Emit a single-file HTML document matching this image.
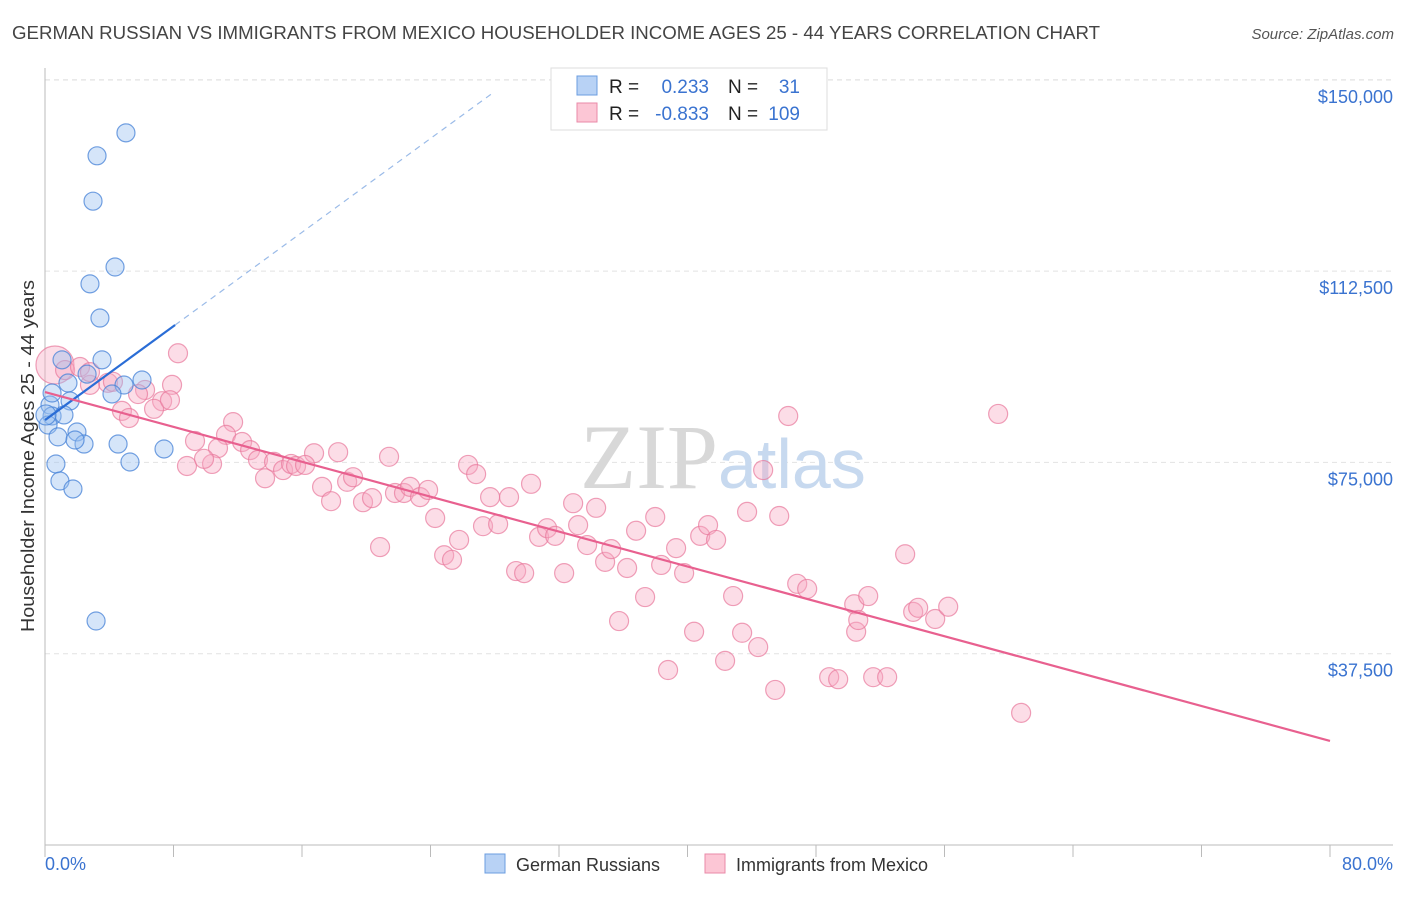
<!DOCTYPE html>
<html><head><meta charset="utf-8"><style>
body{margin:0;background:#fff;font-family:"Liberation Sans",sans-serif;}
svg text{font-family:"Liberation Sans",sans-serif;}
</style></head><body>
<svg id="chart" width="1406" height="892" viewBox="0 0 1406 892" xmlns="http://www.w3.org/2000/svg">
<text x="12" y="39" font-size="18" fill="#444" textLength="1088" lengthAdjust="spacingAndGlyphs">GERMAN RUSSIAN VS IMMIGRANTS FROM MEXICO HOUSEHOLDER INCOME AGES 25 - 44 YEARS CORRELATION CHART</text>
<text x="1394" y="39" font-size="15" fill="#555" font-style="italic" text-anchor="end">Source: ZipAtlas.com</text>
<g id="grid"></g>
<g id="axes"></g>
<text x="718" y="488" font-size="92" text-anchor="end" fill="#d8d8d8" font-family="Liberation Serif" style="font-family:'Liberation Serif',serif">ZIP</text>
<text x="718" y="488" font-size="70" fill="#c7d9ef">atlas</text>
<g id="pink"></g>
<g id="blue"></g>
<g id="trends"></g>
<text transform="translate(34,456) rotate(-90)" font-size="18" fill="#333" text-anchor="middle" textLength="352" lengthAdjust="spacingAndGlyphs">Householder Income Ages 25 - 44 years</text>
<g>
<rect x="551" y="68" width="276" height="62" fill="#fff" stroke="#ddd"/>
<rect x="577" y="76" width="20" height="19" fill="#b8d2f5" stroke="#6b9de0"/>
<rect x="577" y="103" width="20" height="19" fill="#fcc6d5" stroke="#ea8aa8"/>
<text x="609" y="93" font-size="19" fill="#222">R =</text>
<text x="709" y="93" font-size="19" fill="#3a73d0" text-anchor="end">0.233</text>
<text x="728" y="93" font-size="19" fill="#222">N =</text>
<text x="800" y="93" font-size="19" fill="#3a73d0" text-anchor="end">31</text>
<text x="609" y="120" font-size="19" fill="#222">R =</text>
<text x="709" y="120" font-size="19" fill="#3a73d0" text-anchor="end">-0.833</text>
<text x="728" y="120" font-size="19" fill="#222">N =</text>
<text x="800" y="120" font-size="19" fill="#3a73d0" text-anchor="end">109</text>
</g>
<g>
<rect x="485" y="854" width="20" height="19" fill="#b8d2f5" stroke="#6b9de0"/>
<text x="516" y="871" font-size="18" fill="#333">German Russians</text>
<rect x="705" y="854" width="20" height="19" fill="#fcc6d5" stroke="#ea8aa8"/>
<text x="736" y="871" font-size="18" fill="#333">Immigrants from Mexico</text>
</g>
</svg>
<script>
const yTicks=[37500,75000,112500,150000];
const yTickLabels=["$37,500","$75,000","$112,500","$150,000"];
const xTickLabels=["0.0%","80.0%"];
const blueX=[5.04,3.24,2.99,4.36,2.80,3.42,1.06,3.55,2.62,6.04,1.43,4.92,4.17,1.56,0.31,0.44,1.18,0.19,0.81,1.99,2.43,1.87,4.55,7.41,5.29,0.68,0.93,1.74,3.18,0.06,0.44];
const blueY=[139.6,135.1,126.2,113.3,110.0,103.3,95.1,95.1,92.3,91.15,90.56,90.17,88.41,87.04,86.25,84.1,84.3,82.33,80.0,80.96,78.6,79.39,78.6,77.63,75.08,74.69,71.35,69.79,43.91,84.3,88.6];
const pinkX=[0.62,1.25,2.18,3.92,2.80,4.23,6.23,8.28,7.91,7.29,5.79,6.79,4.79,5.23,11.71,9.34,11.27,12.27,12.77,13.26,10.77,8.84,10.40,9.90,13.70,14.26,14.82,15.32,15.63,16.75,17.25,17.81,18.25,18.81,19.18,19.80,20.36,20.86,21.42,21.79,22.35,22.73,23.35,23.85,24.29,24.85,25.34,25.78,26.34,26.84,27.27,27.71,28.21,28.89,29.33,29.83,30.26,30.76,31.26,31.76,32.32,32.88,33.19,33.75,34.31,34.87,35.25,35.74,36.24,36.80,37.36,37.99,38.36,38.79,39.29,39.79,40.41,40.79,41.28,41.78,42.34,42.84,43.40,43.71,44.40,44.71,45.46,45.71,46.27,46.83,47.45,48.82,49.38,50.38,50.50,51.25,51.56,52.43,53.55,54.05,54.36,55.42,56.23,59.34,60.77,2.80,7.78,50.63,16.19];
const pinkY=[94.1,93.1,93.7,90.6,90.2,90.8,89.2,96.4,90.2,87.0,88.4,85.5,85.1,83.7,82.9,79.2,80.4,79.0,77.4,75.5,77.8,74.3,74.7,75.7,71.9,75.1,73.5,74.7,74.3,76.8,70.2,67.4,77.0,71.2,72.1,67.2,68.0,58.4,76.1,69.0,69.0,70.2,68.2,69.6,64.1,56.8,55.9,59.8,74.5,72.7,62.5,68.2,62.9,68.2,53.7,53.3,70.8,60.4,62.1,60.6,53.3,67.0,62.7,58.8,66.1,55.5,58.0,43.9,54.3,61.6,48.6,64.3,54.9,34.3,58.2,53.3,41.8,60.6,62.7,59.8,36.1,48.8,41.6,65.3,38.8,73.5,30.4,64.5,84.1,51.2,50.2,32.9,32.5,47.2,41.8,48.8,32.9,32.9,57.0,45.7,46.5,44.3,46.7,84.5,25.9,92.7,87.2,44.1,74.5];
const blueTrend=[83.3,2.3];
const pinkTrend=[88.8,-0.855];
const NS="http://www.w3.org/2000/svg";
const X0=45,X1=1330,Y0=845,PXK=191.3/37.5;
function sx(p){return X0+(X1-X0)*p/80;}
function sy(k){return Y0-k*PXK;}
function mk(tag,attrs,parent){const e=document.createElementNS(NS,tag);for(const k in attrs)e.setAttribute(k,attrs[k]);parent.appendChild(e);return e;}
const grid=document.getElementById('grid'),axes=document.getElementById('axes');
yTicks.forEach((v,i)=>{
  const y=sy(v/1000);
  const l=mk('line',{x1:X0,x2:1393,y1:y,y2:y,stroke:'#e2e2e2','stroke-dasharray':'5,4'},grid);
  
  
  const t=mk('text',{x:1393,y:y+23,'font-size':18,fill:'#3a73d0','text-anchor':'end'},axes);
  
  
  t.textContent=yTickLabels[i];
});
const topG=mk('line',{x1:X0,x2:1393,y1:80,y2:80,stroke:'#e2e2e2','stroke-dasharray':'5,4'},grid);


const ax=mk('line',{x1:X0,x2:1393,y1:Y0,y2:Y0,stroke:'#bbb'},axes);


const ay=mk('line',{x1:X0,x2:X0,y1:68,y2:Y0,stroke:'#bbb'},axes);


for(let p=0;p<=80;p+=8){
  const x=sx(p);
  const t=mk('line',{x1:x,x2:x,y1:Y0,y2:Y0+12,stroke:'#bbb'},axes);
  
  
}
const xl=mk('text',{x:X0,y:870,'font-size':18,fill:'#3a73d0'},axes);


xl.textContent=xTickLabels[0];
const xr=mk('text',{x:1393,y:870,'font-size':18,fill:'#3a73d0','text-anchor':'end'},axes);


xr.textContent=xTickLabels[1];
const pg=document.getElementById('pink');
pinkX.forEach((p,i)=>{
  const c=mk('circle',{cx:sx(p),cy:sy(pinkY[i]),r:i===0?19:9.5,fill:'rgba(248,170,195,0.4)',stroke:'rgba(232,120,155,0.7)','stroke-width':1.2},pg);
  
  
});
const bg=document.getElementById('blue');
blueX.forEach((p,i)=>{
  const c=mk('circle',{cx:sx(p),cy:sy(blueY[i]),r:i===29?10:9,fill:'rgba(150,190,240,0.4)',stroke:'rgba(70,130,215,0.75)','stroke-width':1.2},bg);
  
  
});
const tg=document.getElementById('trends');
const bEnd=8.1, bDashEnd=(150-blueTrend[0])/blueTrend[1]-1;
const b1=mk('line',{x1:sx(0),y1:sy(blueTrend[0]),x2:sx(bEnd),y2:sy(blueTrend[0]+blueTrend[1]*bEnd),stroke:'#2a6dd6','stroke-width':2.2},tg);


const b2=mk('line',{x1:sx(bEnd),y1:sy(blueTrend[0]+blueTrend[1]*bEnd),x2:sx(bDashEnd),y2:sy(blueTrend[0]+blueTrend[1]*bDashEnd),stroke:'#9bbbe8','stroke-width':1.2,'stroke-dasharray':'6,5'},tg);


const p1=mk('line',{x1:sx(0),y1:sy(pinkTrend[0]),x2:sx(80),y2:sy(pinkTrend[0]+pinkTrend[1]*80),stroke:'#e8608f','stroke-width':2.2},tg);


</script>
</body></html>
